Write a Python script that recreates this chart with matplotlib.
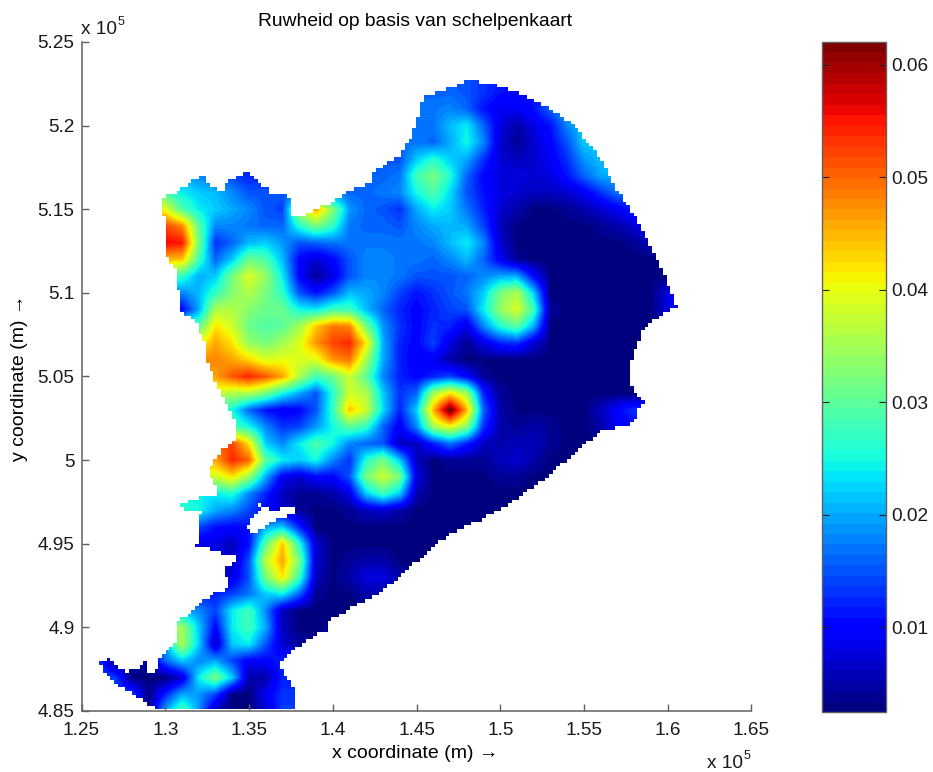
import numpy as np
import matplotlib
matplotlib.use("Agg")
import matplotlib.pyplot as plt
from matplotlib.path import Path
from matplotlib.patches import PathPatch

plt.rcParams['font.family'] = ['Liberation Sans', 'DejaVu Sans']

grid_x = [1.26 + 0.01 * i for i in range(36)]
grid_y = [4.85 + 0.01 * i for i in range(39)]

# roughness in units of 0.001; top row is y = 5.23, columns x = 1.26 ... 1.61
roughness_milli = [
 [14,14,14,14,14,14,14,14,14,14, 14,14,14,14,14,14,14,14,16,16, 16,15,15,13,12,10,10,12,16,20, 20,20,20,20,20,20],
 [14,14,14,14,14,14,14,14,14,14, 14,14,14,14,14,14,14,14,16,16, 16,16,15,13,11,10,11,14,18,22, 22,22,22,22,22,22],
 [14,14,14,14,14,14,14,14,14,14, 14,14,14,14,14,14,14,14,16,17, 17,18,16,11, 9, 9,11,16,20,23, 23,23,23,23,23,23],
 [14,14,14,14,14,14,14,14,14,14, 14,14,14,14,14,14,14,14,16,17, 17,21,24,16, 8, 5, 8,11,18,22, 22,22,22,22,22,22],
 [14,14,14,14,14,14,14,14,14,14, 14,14,14,14,14,14,14,14,16,17, 16,20,25,18, 7, 4, 7,10,15,22, 22,22,22,22,22,22],
 [14,14,14,14,14,14,14,14,14,14, 14,14,14,14,14,14,14,15,15,22, 26,22,20,13, 7, 6, 7, 9,13,19, 21,21,21,21,21,21],
 [20,20,20,20,20,20,18,16,14,12, 13,14,15,15,15,15,16,16,17,28, 32,26,16,10, 8, 8, 7, 8,11,16, 20,20,20,20,20,20],
 [28,28,28,28,28,24,22,21,18,15, 15,15,15,15,17,16,16,17,18,25, 29,23,15,11, 8, 7, 6, 6, 7, 9, 13,17,17,17,17,17],
 [40,40,40,40,40,29,24,22,20,18, 15,14,36,46,33,19,16,15,13,20, 24,22,17,12, 7, 5, 3, 3, 4, 5,  7, 9,12,12,12,12],
 [52,52,52,52,52,48,30,18,18,17, 16,16,26,32,27,17,16,16,15,18, 20,21,20,14, 6, 3, 3, 3, 3, 3,  4, 5, 7,10,10,10],
 [56,56,56,56,56,55,32,13,16,21, 22,19,15,16,17,17,17,17,17,17, 18,21,24,18, 7, 3, 3, 3, 3, 3,  3, 3, 4, 6, 6, 6],
 [45,45,45,45,45,44,28,16,22,31, 29,21,10, 7,10,15,18,18,17,17, 16,18,21,16, 9, 4, 3, 3, 3, 3,  3, 3, 3, 3, 3, 3],
 [28,28,28,28,28,27,20,22,32,39, 34,24,10, 4, 8,15,18,18,17,15, 15,15,16,18,20,20,10, 3, 3, 3,  3, 3, 3, 3, 3, 3],
 [18,18,18,18,18,18,21,27,33,36, 32,27,15,11,15,21,20,18,14,11, 13,15,17,22,32,36,22, 3, 3, 3,  3, 3, 3, 3, 8,10],
 [10,10,10,10,10,10,20,36,36,33, 31,31,25,24,28,28,21,16,12,10, 12,14,15,24,34,39,28, 4, 3, 3,  3, 3, 3, 3, 8,10],
 [30,30,30,30,30,30,30,42,38,31, 29,30,35,44,49,48,32,19,13,10, 13,12, 8,18,26,30,20, 3, 3, 3,  3, 3, 3, 3, 3, 3],
 [40,40,40,40,40,40,40,46,42,34, 32,35,39,47,52,54,42,20,12,10, 14, 8, 4, 8,12,13, 7, 3, 3, 3,  3, 3, 3, 3, 3, 3],
 [48,48,48,48,48,48,48,48,46,43, 39,40,39,39,47,49,35,20,12, 9,  9, 5, 3, 3, 3, 3, 3, 3, 3, 3,  3, 3, 3, 3, 3, 3],
 [46,46,46,46,46,46,46,46,51,54, 51,46,36,28,31,38,30,18,12,10, 12,14,10, 4, 3, 3, 3, 3, 3, 3,  3, 3, 3, 3, 3, 3],
 [38,38,38,38,38,38,38,38,36,36, 32,25,20,15,26,38,36,22,13,16, 35,42,35,12, 4, 3, 3, 3, 3, 3,  3, 3, 3, 3, 3, 3],
 [25,25,25,25,25,25,25,25,25,16, 11, 9,10,15,27,44,38,23,12,22, 45,64,45,16, 5, 3, 3, 3, 3, 3,  6,10,13,13,13,13],
 [29,29,29,29,29,29,29,29,29,25, 18,13,14,19,25,30,27,16, 9,18, 35,40,33,13, 5, 4, 5, 4, 3, 3,  5, 9,10,10,10,10],
 [50,50,50,50,50,50,50,50,52,42, 22,18,24,29,25,18,16,15, 6, 6, 12,17,12, 6, 5, 6, 6, 4, 3, 3,  3, 3, 3, 3, 3, 3],
 [48,48,48,48,48,48,48,46,54,50, 30,24,22,25,18,13,26,32,22, 6,  3, 4, 4, 4, 6, 7, 5, 3, 3, 3,  3, 3, 3, 3, 3, 3],
 [37,37,37,37,37,37,37,38,42,34, 20, 9, 7,10,10,15,32,38,32, 8,  3, 3, 3, 3, 4, 4, 3, 3, 3, 3,  3, 3, 3, 3, 3, 3],
 [24,24,24,24,24,24,24,24,26,18, 12, 6, 4, 4, 5, 8,22,28,22, 5,  3, 3, 3, 3, 3, 3, 3, 3, 3, 3,  3, 3, 3, 3, 3, 3],
 [27,27,27,27,27,27,25,20,18,14, 10, 7, 4, 3, 3, 4, 6, 7, 5, 3,  3, 3, 3, 3, 3, 3, 3, 3, 3, 3,  3, 3, 3, 3, 3, 3],
 [14,14,14,14,14,14,14,11,10,11, 20,22,12, 3, 3, 3, 3, 3, 3, 3,  3, 3, 3, 3, 3, 3, 3, 3, 3, 3,  3, 3, 3, 3, 3, 3],
 [ 8, 8, 8, 8, 8, 8, 8, 8, 6,11, 30,44,26, 7, 3, 3, 3, 3, 3, 3,  3, 3, 3, 3, 3, 3, 3, 3, 3, 3,  3, 3, 3, 3, 3, 3],
 [ 9, 9, 9, 9, 9, 9, 9, 9, 6,15, 37,46,32, 7, 3, 4, 5, 5, 3, 3,  3, 3, 3, 3, 3, 3, 3, 3, 3, 3,  3, 3, 3, 3, 3, 3],
 [ 8, 8, 8, 8, 8, 8, 8, 8, 8,15, 32,42,28, 6, 3, 5, 8, 8, 5, 3,  3, 3, 3, 3, 3, 3, 3, 3, 3, 3,  3, 3, 3, 3, 3, 3],
 [12,12,12,12,12,12,12,12,14,17, 22,24,16, 4, 3, 3, 5, 5, 3, 3,  3, 3, 3, 3, 3, 3, 3, 3, 3, 3,  3, 3, 3, 3, 3, 3],
 [14,14,14,14,14,20,18,14,24,28, 18, 6, 3, 3, 3, 3, 3, 3, 3, 3,  3, 3, 3, 3, 3, 3, 3, 3, 3, 3,  3, 3, 3, 3, 3, 3],
 [33,33,33,33,33,35,22,10,24,28, 20, 6, 3, 3, 4, 4, 3, 3, 3, 3,  3, 3, 3, 3, 3, 3, 3, 3, 3, 3,  3, 3, 3, 3, 3, 3],
 [16,16,16,16,20,36,22, 6,22,24, 15, 7, 4, 4, 4, 4, 3, 3, 3, 3,  3, 3, 3, 3, 3, 3, 3, 3, 3, 3,  3, 3, 3, 3, 3, 3],
 [14, 3, 5, 5,16,22,18,20,14, 9, 10,12,12,12,12,12,12,12,12,12, 12,12,12,12,12,12,12,12,12,12, 12,12,12,12,12,12],
 [14,14, 3, 3, 3, 7,24,32,22, 5,  5,12,12,12,12,12,12,12,12,12, 12,12,12,12,12,12,12,12,12,12, 12,12,12,12,12,12],
 [14,14,14, 3,12,20,19,14, 3, 3,  9,13,13,13,13,13,13,13,13,13, 13,13,13,13,13,13,13,13,13,13, 13,13,13,13,13,13],
 [ 4, 4, 4, 4,20,30,19, 5, 3, 3,  7,14,14,14,14,14,14,14,14,14, 14,14,14,14,14,14,14,14,14,14, 14,14,14,14,14,14],
]

outline_x = [1.299,1.322,1.327,1.331,1.335,1.349,1.355,1.361,1.373,1.376,1.399,1.405,1.421,1.424,1.433,1.440,
             1.448,1.451,1.454,1.466,1.478,1.488,1.500,1.516,1.530,1.546,1.560,1.572,1.584,1.596,1.600,1.605,
             1.597,1.586,1.580,1.577,1.577,1.586,1.578,1.563,1.527,1.500,1.470,1.452,1.429,1.400,1.396,1.377,
             1.369,1.377,1.377,1.297,1.275,1.261,1.264,1.275,1.276,1.287,1.290,1.296,1.297,1.306,1.306,1.320,
             1.327,1.337,1.336,1.345,1.343,1.329,1.318,1.321,1.320,1.323,1.314,1.310,1.325,1.333,1.326,1.329,
             1.339,1.343,1.342,1.335,1.325,1.323,1.317,1.308,1.308,1.306,1.301,1.300,1.299]
outline_y = [5.157,5.171,5.163,5.162,5.166,5.173,5.166,5.160,5.160,5.145,5.154,5.160,5.166,5.172,5.178,5.182,
             5.196,5.208,5.218,5.221,5.227,5.226,5.223,5.217,5.210,5.196,5.178,5.157,5.138,5.116,5.104,5.091,
             5.086,5.077,5.064,5.054,5.045,5.033,5.021,5.018,4.988,4.970,4.955,4.940,4.921,4.904,4.898,4.886,
             4.876,4.861,4.850,4.850,4.864,4.879,4.882,4.873,4.873,4.879,4.873,4.876,4.885,4.892,4.903,4.915,
             4.919,4.925,4.936,4.940,4.943,4.946,4.949,4.956,4.967,4.969,4.969,4.975,4.979,4.981,4.994,5.001,
             5.012,5.018,5.024,5.038,5.060,5.076,5.084,5.090,5.102,5.115,5.124,5.133,5.148]
hole_x = [1.355,1.357,1.354,1.349,1.351,1.364,1.377,1.377,1.364]
hole_y = [4.975,4.970,4.965,4.959,4.956,4.964,4.969,4.972,4.970]

x_ticks = [1.25,1.3,1.35,1.4,1.45,1.5,1.55,1.6,1.65]
y_ticks = [4.85,4.9,4.95,5,5.05,5.1,5.15,5.2,5.25]
x_labels = ['1.25','1.3','1.35','1.4','1.45','1.5','1.55','1.6','1.65']
y_labels = ['4.85','4.9','4.95','5','5.05','5.1','5.15','5.2','5.25']
cbar_ticks = [0.01,0.02,0.03,0.04,0.05,0.06]
cbar_labels = ['0.01','0.02','0.03','0.04','0.05','0.06']


def stair(xs, ys, step=0.0022):
    """Turn a ring into the staircase edge of the map's square cells."""
    out_v, out_c = [], []
    px, py = None, None
    n = len(xs)
    for i in range(n):
        x0, y0, x1, y1 = xs[i], ys[i], xs[(i+1) % n], ys[(i+1) % n]
        m = max(1, int(max(abs(x1-x0), abs(y1-y0)) / step))
        for k in range(m):
            t = k / m
            qx = round((x0 + (x1-x0)*t) / step) * step
            qy = round((y0 + (y1-y0)*t) / step) * step
            if px is None:
                out_v.append((qx, qy)); out_c.append(Path.MOVETO)
            else:
                if qx != px and qy != py:
                    out_v.append((qx, py)); out_c.append(Path.LINETO)
                if qx != px or qy != py:
                    out_v.append((qx, qy)); out_c.append(Path.LINETO)
            px, py = qx, qy
    out_v.append(out_v[0]); out_c.append(Path.CLOSEPOLY)
    return out_v, out_c


W, H = 933, 772
fig = plt.figure(figsize=(W/100, H/100), dpi=100)
ax = fig.add_axes([81.5/W, 1-711/H, 670/W, 669/H])
cax = fig.add_axes([822/W, 1-712/H, 64/W, 670/H])

Z = np.array(roughness_milli)[::-1] * 0.001
cmap = matplotlib.colormaps['jet'].resampled(64)
im = ax.imshow(Z, origin='lower', aspect='auto', cmap=cmap, vmin=0.00245, vmax=0.062,
               extent=[grid_x[0]-0.005, grid_x[-1]+0.005, grid_y[0]-0.005, grid_y[-1]+0.005],
               interpolation='bilinear', interpolation_stage='data')

v1, c1 = stair(outline_x, outline_y)
v2, c2 = stair(hole_x, hole_y)
clip = PathPatch(Path(v1+v2, c1+c2), transform=ax.transData, fc='none', ec='none')
ax.add_patch(clip)
im.set_clip_path(clip)

ax.set_xlim(1.25, 1.65)
ax.set_ylim(4.85, 5.25)
ax.set_xticks(x_ticks, x_labels)
ax.set_yticks(y_ticks, y_labels)
ax.tick_params(axis='x', direction='in', length=5, width=1, labelsize=13.7, color='#606060', pad=8, labelcolor='#1a1a1a')
ax.tick_params(axis='y', direction='in', length=5, width=1, labelsize=13.7, color='#606060', pad=5, labelcolor='#1a1a1a')
for s in ['top', 'right']:
    ax.spines[s].set_visible(False)
for s in ['left', 'bottom']:
    ax.spines[s].set_color('#606060')
    ax.spines[s].set_linewidth(1.1)

fig.text(415/W, 1-754/H, 'x coordinate (m) \u2192', fontsize=14, ha='center', va='center')
fig.text(20/W, 1-378/H, 'y coordinate (m) \u2192', fontsize=14, ha='center', va='center', rotation=90)
fig.text(415/W, 1-22/H, 'Ruwheid op basis van schelpenkaart', fontsize=13.9, ha='center', va='center')

fig.text(81/W, 1-34/H, 'x 10', fontsize=13.7, ha='left', va='baseline', color='#1a1a1a')
fig.text(118/W, 1-25/H, '5', fontsize=9, ha='left', va='baseline', color='#1a1a1a')
fig.text(707/W, 1-768/H, 'x 10', fontsize=13.7, ha='left', va='baseline', color='#1a1a1a')
fig.text(744/W, 1-759/H, '5', fontsize=9, ha='left', va='baseline', color='#1a1a1a')

cb = fig.colorbar(im, cax=cax)
cb.set_ticks(cbar_ticks, labels=cbar_labels)
cax.tick_params(direction='in', length=5, width=0.8, labelsize=13.7, left=True, right=True, pad=4,
                color='#202020', labelcolor='#1a1a1a')
cb.outline.set_edgecolor('#606060')
cb.outline.set_linewidth(1.0)

fig.savefig('out.png', dpi=100)
